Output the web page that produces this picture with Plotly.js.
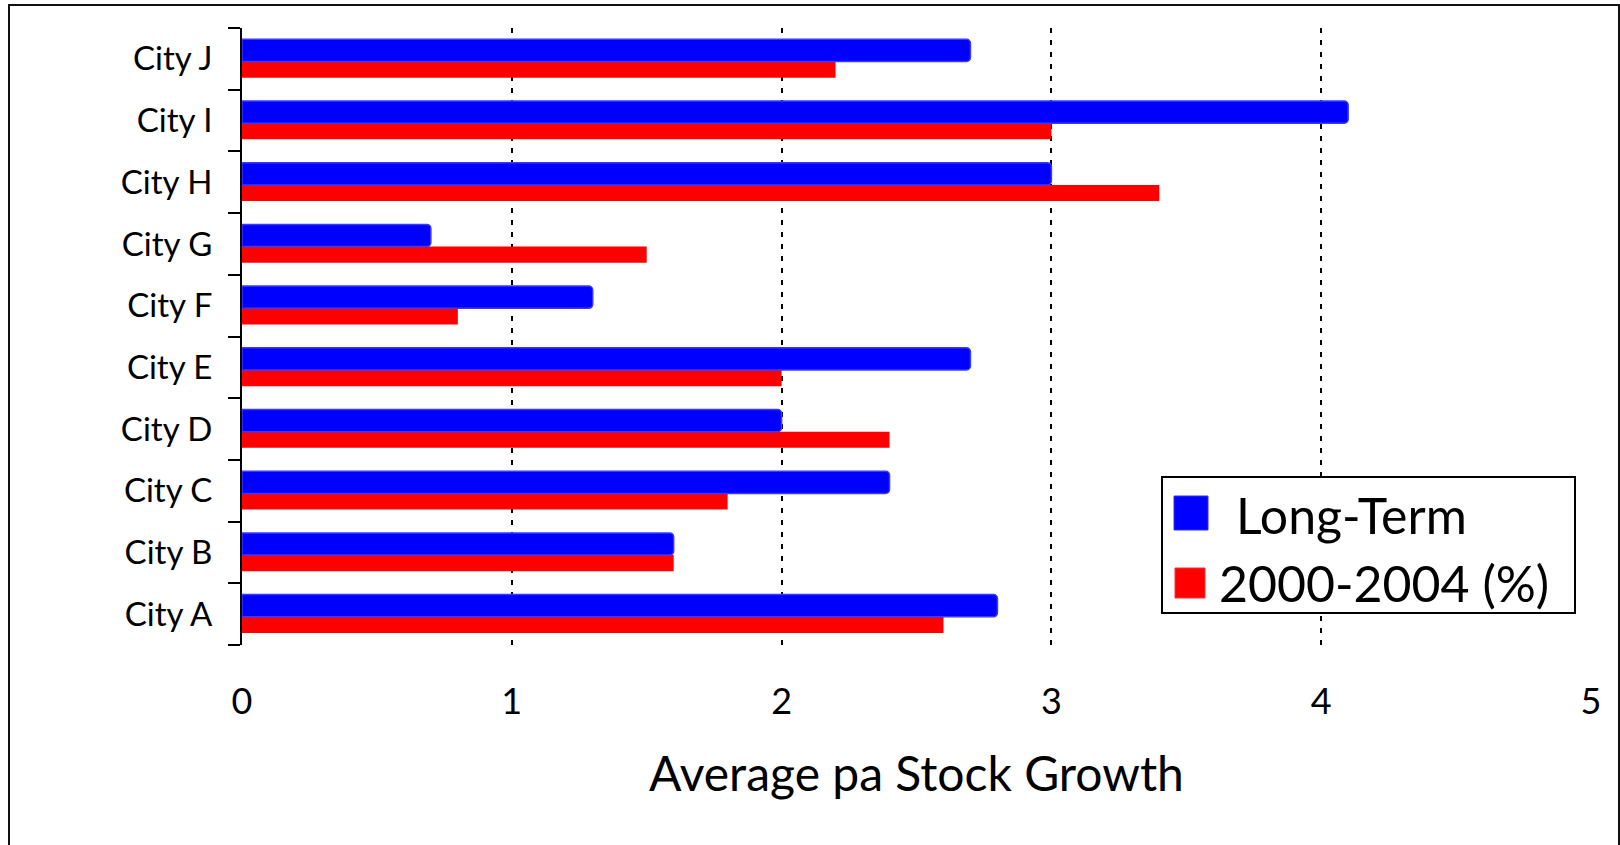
<!DOCTYPE html>
<html>
<head>
<meta charset="utf-8">
<script src="https://cdn.plot.ly/plotly-3.0.1.min.js"></script>
<style>
  html, body { margin: 0; padding: 0; background: #ffffff; }
  #chart { width: 1620px; height: 845px; }
</style>
</head>
<body>
<div id="chart"></div>
<script>
// ---- data ----
const cities = ['City A', 'City B', 'City C', 'City D', 'City E', 'City F', 'City G', 'City H', 'City I', 'City J'];
const longTerm = [2.8, 1.6, 2.4, 2.0, 2.7, 1.3, 0.7, 3.0, 4.1, 2.7];
const recent = [2.6, 1.6, 1.8, 2.4, 2.0, 0.8, 1.5, 3.4, 3.0, 2.2];
const seriesNames = ['Long-Term', '2000-2004 (%)'];
const seriesColors = ['#0000ff', '#ff0000'];
const xTickVals = [0, 1, 2, 3, 4, 5];
const xAxisTitle = 'Average pa Stock Growth';

// ---- geometry ----
const W = 1620, H = 845;
const M = { l: 242, r: 29, t: 28, b: 200 };
const PW = W - M.l - M.r, PH = H - M.t - M.b;
const px = x => (x - M.l) / PW;          // pixel x -> paper x
const py = y => (H - M.b - y) / PH;      // pixel y -> paper y
const FONT = 'Lato, "Open Sans", sans-serif';

const traces = [
  {
    type: 'bar', orientation: 'h', name: seriesNames[1],
    y: cities, x: recent,
    offset: -0.305, width: 0.262,
    marker: { color: seriesColors[1], line: { width: 0 } },
    showlegend: false, hoverinfo: 'x+y+name'
  },
  {
    type: 'bar', orientation: 'h', name: seriesNames[0],
    y: cities, x: longTerm,
    offset: -0.043, width: 0.36,
    marker: { color: seriesColors[0], line: { color: '#3a3aff', width: 1.5 }, cornerradius: 4 },
    showlegend: false, hoverinfo: 'x+y+name'
  }
];

const shapes = [
  // outer frame
  { type: 'rect', xref: 'paper', yref: 'paper',
    x0: px(9), x1: px(1619), y0: py(860), y1: py(5),
    line: { color: '#111111', width: 2 }, fillcolor: 'rgba(0,0,0,0)', layer: 'above' },
  // legend box
  { type: 'rect', xref: 'paper', yref: 'paper',
    x0: px(1162), x1: px(1575), y0: py(613), y1: py(477),
    line: { color: '#000000', width: 2 }, fillcolor: '#ffffff', layer: 'above' },
  // legend swatches
  { type: 'rect', xref: 'paper', yref: 'paper',
    x0: px(1174), x1: px(1208), y0: py(530), y1: py(496),
    line: { color: '#3030ff', width: 1 }, fillcolor: seriesColors[0], layer: 'above' },
  { type: 'rect', xref: 'paper', yref: 'paper',
    x0: px(1175), x1: px(1205), y0: py(598), y1: py(568),
    line: { color: '#ff3030', width: 1 }, fillcolor: seriesColors[1], layer: 'above' }
];

const annotations = [
  { xref: 'paper', yref: 'paper', x: px(1234), y: py(515), xanchor: 'left', yanchor: 'middle',
    text: seriesNames[0], showarrow: false, font: { family: FONT, size: 50, color: '#000' } },
  { xref: 'paper', yref: 'paper', x: px(1217), y: py(583), xanchor: 'left', yanchor: 'middle',
    text: seriesNames[1], showarrow: false, font: { family: FONT, size: 50, color: '#000' } }
];

const layout = {
  width: W, height: H,
  margin: M,
  paper_bgcolor: '#ffffff', plot_bgcolor: '#ffffff',
  font: { family: FONT, color: '#000000' },
  barmode: 'overlay',
  showlegend: false,
  xaxis: {
    range: [0, 5], tickvals: xTickVals, ticktext: xTickVals.map(String),
    showgrid: true, gridcolor: '#000000', gridwidth: 2, griddash: '5px,7px',
    zeroline: false, showline: false, ticks: '',
    tickfont: { family: FONT, size: 36, color: '#000' },
    ticklabelstandoff: 32,
    title: { text: xAxisTitle, font: { family: FONT, size: 48, color: '#000' }, standoff: 36 },
    fixedrange: true
  },
  yaxis: {
    type: 'category', categoryorder: 'array', categoryarray: cities,
    range: [-0.5, cities.length - 0.5],
    showline: true, linecolor: '#000000', linewidth: 2,
    ticks: 'outside', tickson: 'boundaries', ticklen: 12, tickwidth: 2, tickcolor: '#000000',
    showgrid: false, zeroline: false,
    tickfont: { family: FONT, size: 33, color: '#000' },
    ticklabelstandoff: 21,
    fixedrange: true
  },
  shapes: shapes,
  annotations: annotations
};

Plotly.newPlot('chart', traces, layout, { displayModeBar: false, staticPlot: false });
</script>
</body>
</html>
